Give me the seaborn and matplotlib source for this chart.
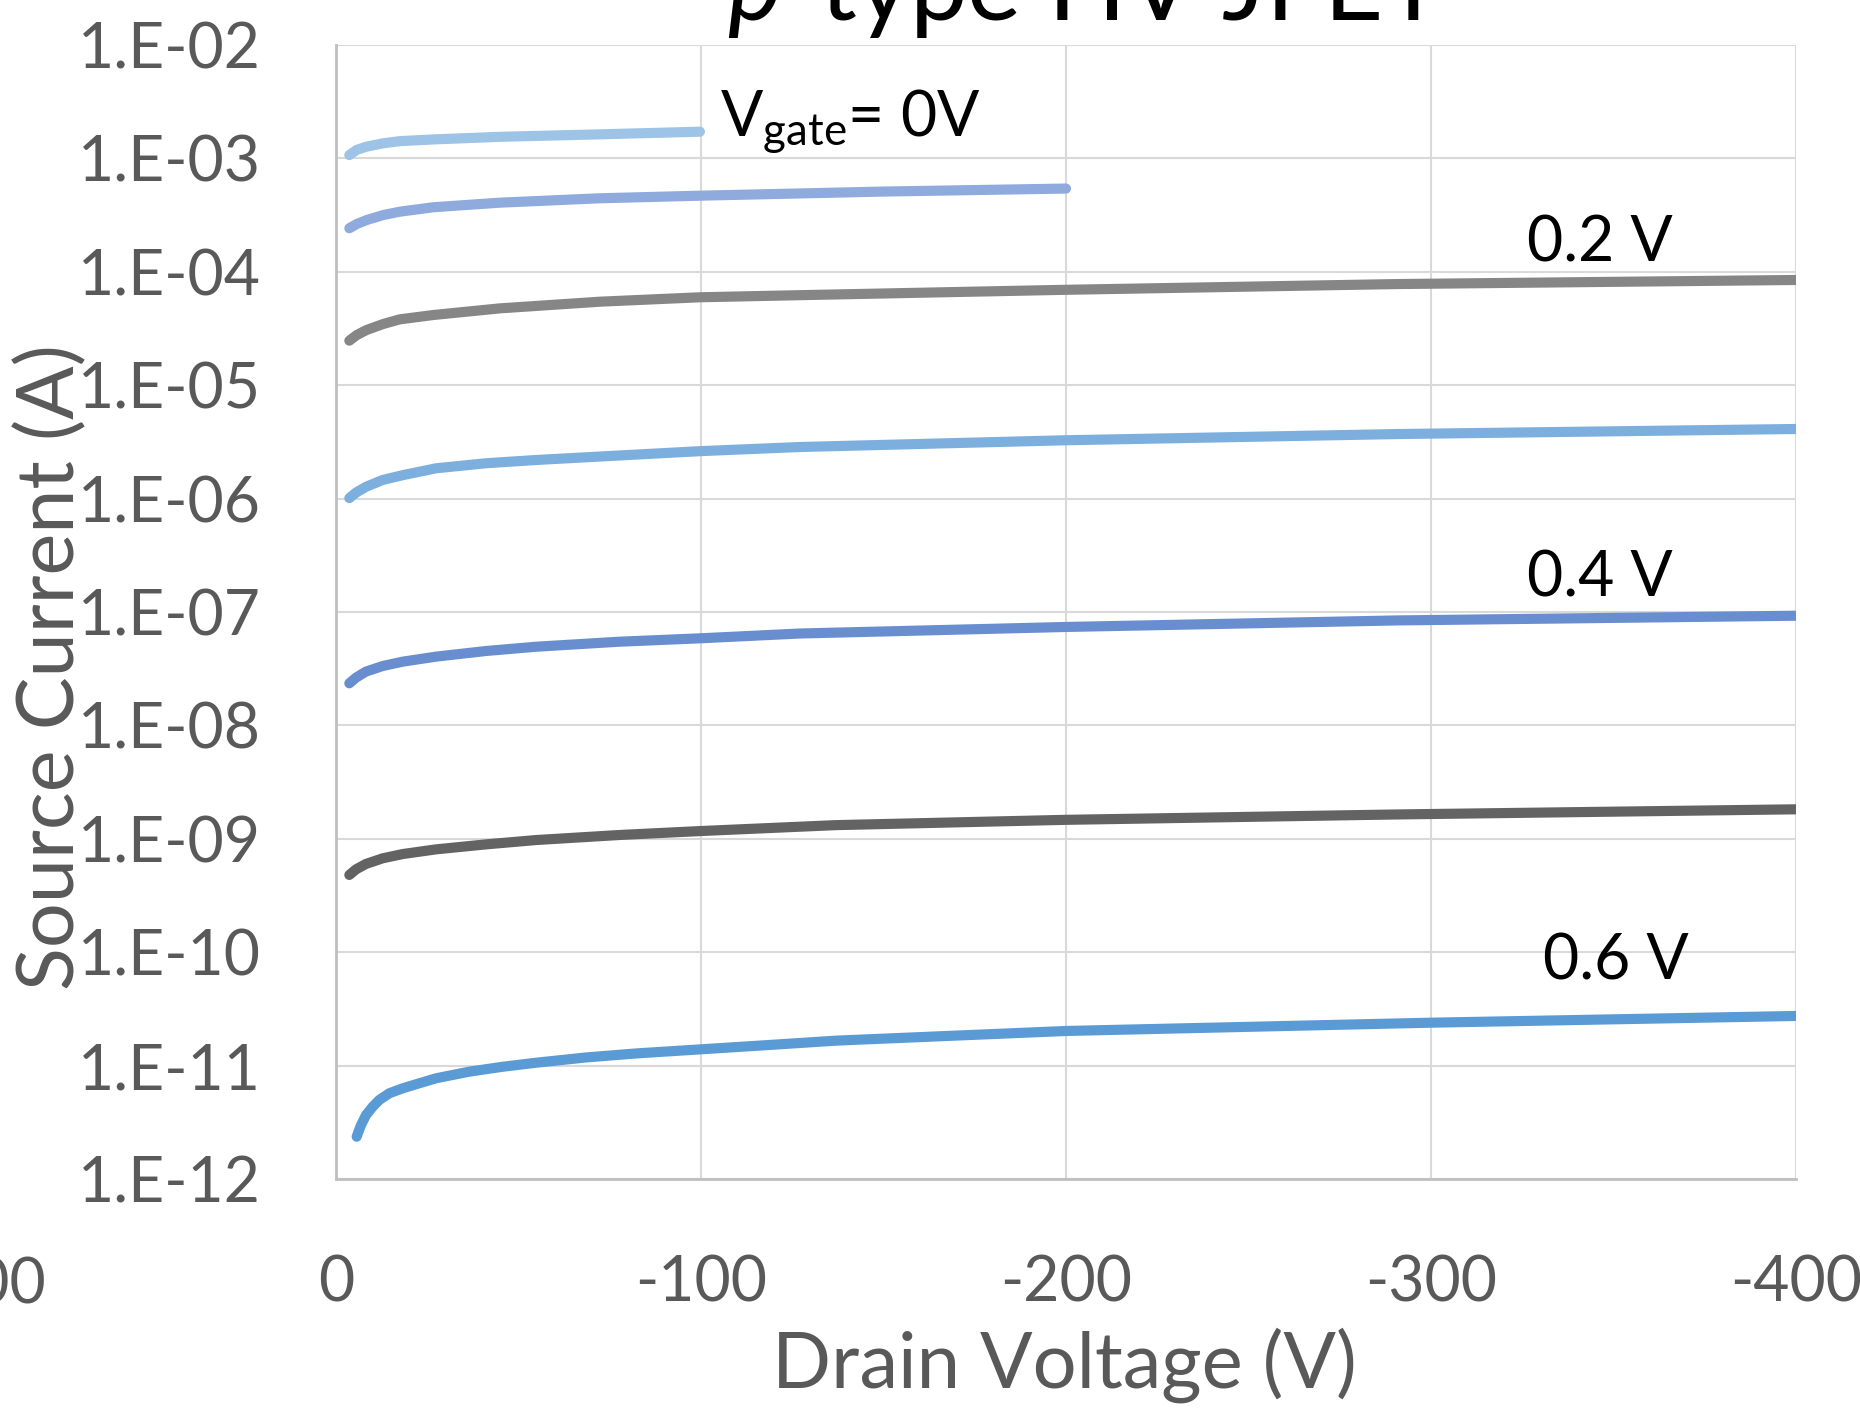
import matplotlib
matplotlib.use("Agg")
import matplotlib.pyplot as plt
from matplotlib.ticker import NullLocator
import numpy as np
import pandas as pd
import seaborn as sns

# ---------------- data ----------------
gate_labels = ["0 V", "0.1 V", "0.2 V", "0.3 V", "0.4 V", "0.5 V", "0.6 V"]

vd_g00 = [-3.65, -5.7, -8.4, -13.0, -17.5, -26.7, -44.9, -72.3, -99.7]
is_g00 = [1.07e-3, 1.19e-3, 1.27e-3, 1.36e-3, 1.42e-3, 1.47e-3, 1.55e-3, 1.63e-3, 1.72e-3]

vd_g01 = [-3.65, -5.7, -8.4, -13.0, -17.5, -26.7, -44.9, -72.3, -99.7, -150, -200]
is_g01 = [2.42e-4, 2.64e-4, 2.86e-4, 3.17e-4, 3.39e-4, 3.71e-4, 4.07e-4, 4.45e-4, 4.69e-4,
          5.10e-4, 5.42e-4]

vd_g02 = [-3.65, -5.7, -8.4, -13.0, -17.5, -26.7, -44.9, -72.3, -99.7, -127, -200, -291, -400]
is_g02 = [2.47e-5, 2.77e-5, 3.07e-5, 3.47e-5, 3.81e-5, 4.16e-5, 4.76e-5, 5.45e-5, 5.96e-5,
          6.22e-5, 6.94e-5, 7.80e-5, 8.47e-5]

vd_g03 = [-3.65, -5.5, -8.2, -12.8, -18.3, -27.4, -41.1, -54.8, -77.6, -99.7, -127, -200, -291, -400]
is_g03 = [1.01e-6, 1.13e-6, 1.27e-6, 1.46e-6, 1.61e-6, 1.85e-6, 2.05e-6, 2.19e-6, 2.40e-6,
          2.62e-6, 2.85e-6, 3.27e-6, 3.71e-6, 4.11e-6]

vd_g04 = [-3.65, -5.5, -8.2, -12.8, -18.3, -27.4, -41.1, -54.8, -77.6, -99.7, -127, -200, -291, -400]
is_g04 = [2.35e-8, 2.64e-8, 2.98e-8, 3.34e-8, 3.65e-8, 4.04e-8, 4.53e-8, 4.94e-8, 5.47e-8,
          5.86e-8, 6.46e-8, 7.38e-8, 8.43e-8, 9.27e-8]

vd_g05 = [-3.65, -5.5, -8.2, -12.8, -18.3, -27.4, -41.1, -54.8, -77.6, -99.7, -137, -200, -291, -400]
is_g05 = [4.80e-10, 5.38e-10, 6.00e-10, 6.73e-10, 7.34e-10, 8.07e-10, 8.93e-10, 9.75e-10,
          1.08e-9, 1.17e-9, 1.32e-9, 1.47e-9, 1.64e-9, 1.82e-9]

vd_g06 = [-5.66, -6.85, -8.22, -10.05, -11.87, -14.6, -18.3, -22.8, -27.4, -36.5, -45.7,
          -54.8, -68.5, -82.2, -99.7, -118.7, -137, -200, -300, -400]
is_g06 = [2.36e-12, 2.99e-12, 3.66e-12, 4.34e-12, 4.98e-12, 5.70e-12, 6.31e-12, 6.98e-12,
          7.73e-12, 8.84e-12, 9.77e-12, 1.06e-11, 1.18e-11, 1.28e-11, 1.39e-11, 1.52e-11,
          1.66e-11, 2.02e-11, 2.39e-11, 2.74e-11]

line_colors = ["#9DC3E6", "#8FAADC", "#868686", "#7CAFDD", "#698ED0", "#636363", "#5B9BD5"]

x_ticks = [0, -100, -200, -300, -400]
x_tick_labels = ["0", "-100", "-200", "-300", "-400"]
y_ticks = [1e-12, 1e-11, 1e-10, 1e-9, 1e-8, 1e-7, 1e-6, 1e-5, 1e-4, 1e-3, 1e-2]
y_tick_labels = ["1.E-12", "1.E-11", "1.E-10", "1.E-09", "1.E-08", "1.E-07",
                 "1.E-06", "1.E-05", "1.E-04", "1.E-03", "1.E-02"]

title_text = r"$\mathit{p}$-type HV JFET"
x_label = "Drain Voltage (V)"
y_label = "Source Current (A)"
annot_vgate = r"V$_{\mathrm{gate}}$= 0V"
annot_02 = "0.2 V"
annot_04 = "0.4 V"
annot_06 = "0.6 V"
cut_label = "100"

# ---------------- build table ----------------
series_vd = [vd_g00, vd_g01, vd_g02, vd_g03, vd_g04, vd_g05, vd_g06]
series_is = [is_g00, is_g01, is_g02, is_g03, is_g04, is_g05, is_g06]
frames = []
for lab, vd, cur in zip(gate_labels, series_vd, series_is):
    frames.append(pd.DataFrame({"Vd": vd, "Is": cur, "Vg": lab}))
df = pd.concat(frames, ignore_index=True)
palette = dict(zip(gate_labels, line_colors))

# ---------------- style ----------------
sns.set_style("white")
plt.rcParams["font.family"] = ["Lato", "DejaVu Sans"]
plt.rcParams["mathtext.fontset"] = "custom"
plt.rcParams["mathtext.rm"] = "Lato"
plt.rcParams["mathtext.it"] = "Lato:italic"
plt.rcParams["mathtext.bf"] = "Lato:bold"

W, H = 1860, 1424
fig = plt.figure(figsize=(W / 100, H / 100), dpi=100)
ax_l, ax_r, ax_t, ax_b = 336, 1796, 45, 1179
ax = fig.add_axes([ax_l / W, 1 - ax_b / H, (ax_r - ax_l) / W, (ax_b - ax_t) / H])

sns.lineplot(data=df, x="Vd", y="Is", hue="Vg", hue_order=gate_labels, palette=palette,
             estimator=None, sort=False, linewidth=7.3, solid_capstyle="round",
             solid_joinstyle="round", legend=False, ax=ax)
for ln in ax.lines:
    ln.set_linewidth(7.3)
    ln.set_solid_capstyle("round")
    ln.set_solid_joinstyle("round")

ax.set_yscale("log")
ax.set_xlim(0, -400)
ax.set_ylim(1e-12, 1e-2)
ax.set_xticks(x_ticks)
ax.set_xticklabels(x_tick_labels)
ax.set_yticks(y_ticks)
ax.set_yticklabels(y_tick_labels)
ax.yaxis.set_minor_locator(NullLocator())
ax.xaxis.set_minor_locator(NullLocator())

ax.grid(True, which="major", color="#D9D9D9", linewidth=1.5)
ax.set_axisbelow(True)
for s in ["top", "right"]:
    ax.spines[s].set_visible(False)
for s in ["left", "bottom"]:
    ax.spines[s].set_color("#BFBFBF")
    ax.spines[s].set_linewidth(2)

ax.tick_params(axis="both", length=0, labelsize=45, labelcolor="#595959")
ax.tick_params(axis="y", pad=54)
ax.tick_params(axis="x", pad=54)

ax.set_xlabel(x_label, fontsize=56, color="#595959")
ax.xaxis.label.set_va("baseline")
ax.xaxis.set_label_coords(0.4986, -(1388 - ax_b) / (ax_b - ax_t))

ax.set_ylabel(y_label, fontsize=57, color="#595959")
ax.yaxis.label.set_va("baseline")
ax.yaxis.set_label_coords((74 - ax_l) / (ax_r - ax_l), (ax_b - 667) / (ax_b - ax_t))

# title (cut off at the top in the reference)
fig.text(1085 / W, 1 - 20 / H, title_text, ha="center", va="baseline",
         fontsize=74, color="black")

# annotations
fig.text(720 / W, 1 - 136 / H, annot_vgate, ha="left", va="baseline", fontsize=45, color="black")
fig.text(1527 / W, 1 - 262 / H, annot_02, ha="left", va="baseline", fontsize=45, color="black")
fig.text(1527 / W, 1 - 597 / H, annot_04, ha="left", va="baseline", fontsize=45, color="black")
fig.text(1543 / W, 1 - 980 / H, annot_06, ha="left", va="baseline", fontsize=45, color="black")

# partially visible tick label at the left edge
fig.text(47 / W, 1 - 1257 / H, cut_label, ha="right", va="top", fontsize=45, color="#595959")

fig.savefig("out.png", dpi=100)
